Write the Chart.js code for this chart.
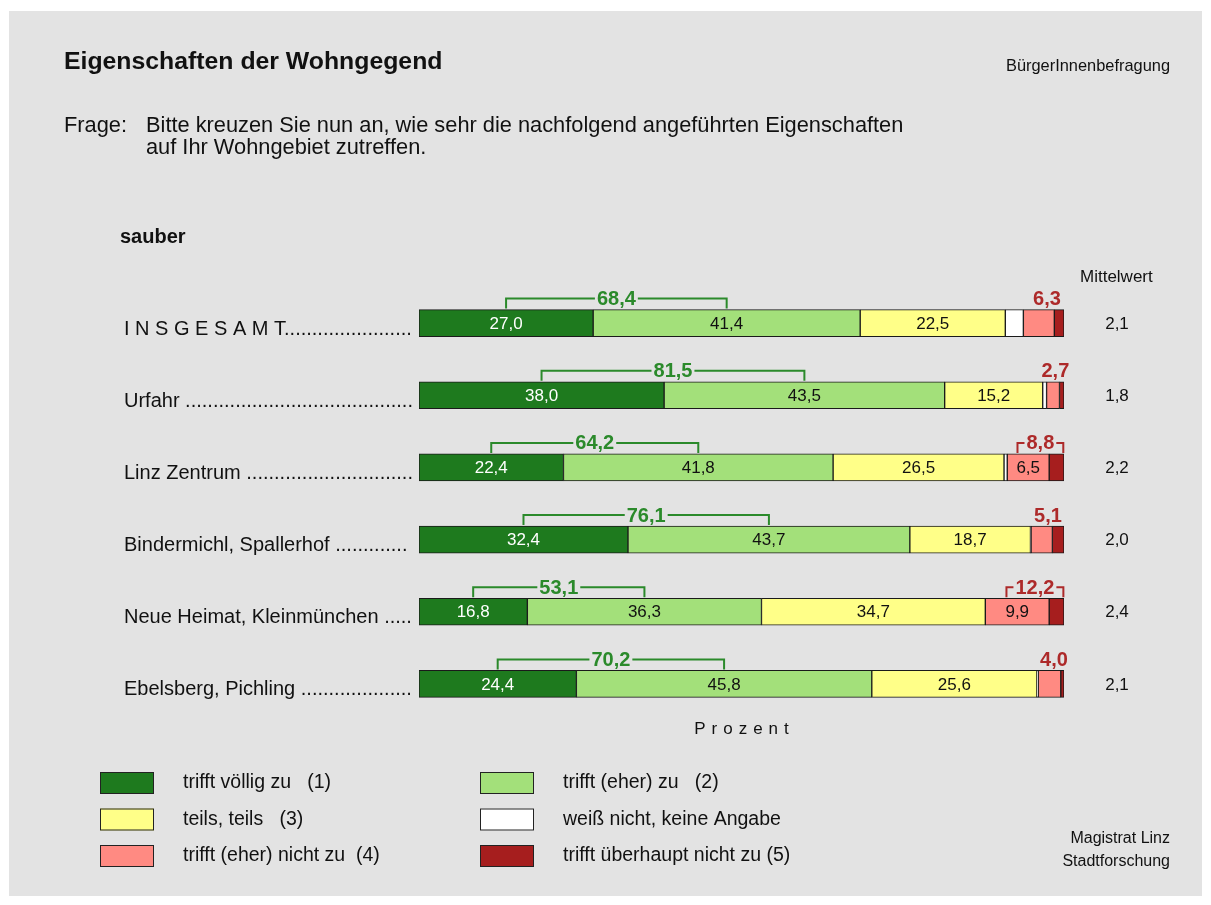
<!DOCTYPE html>
<html>
<head>
<meta charset="utf-8">
<script src="https://cdn.jsdelivr.net/npm/chart.js@4/dist/chart.umd.min.js"></script>
<style>
  body { margin: 0; background: #fff; }
  #panel { position: absolute; left: 9px; top: 11px; width: 1193px; height: 885px; background: #e3e3e3; }
  #wrap { position: absolute; left: 0; top: 0; width: 1211px; height: 905px; }
</style>
</head>
<body>
<div id="panel"></div>
<div id="wrap"><canvas id="chart" width="1211" height="905"></canvas></div>
<script>
var categories = ['I N S G E S A M T', 'Urfahr', 'Linz Zentrum', 'Bindermichl, Spallerhof', 'Neue Heimat, Kleinmünchen', 'Ebelsberg, Pichling'];
var seriesNames = ['trifft völlig zu   (1)', 'trifft (eher) zu   (2)', 'teils, teils   (3)', 'weiß nicht, keine Angabe', 'trifft (eher) nicht zu  (4)', 'trifft überhaupt nicht zu (5)'];
var voellig = [27.0, 38.0, 22.4, 32.4, 16.8, 24.4];
var eher = [41.4, 43.5, 41.8, 43.7, 36.3, 45.8];
var teils = [22.5, 15.2, 26.5, 18.7, 34.7, 25.6];
var weissNicht = [2.8, 0.6, 0.5, 0.1, 0.0, 0.2];
var eherNicht = [4.8, 2.0, 6.5, 3.3, 9.9, 3.5];
var garNicht = [1.5, 0.7, 2.3, 1.8, 2.3, 0.5];
var zustimmung = [68.4, 81.5, 64.2, 76.1, 53.1, 70.2];
var ablehnung = [6.3, 2.7, 8.8, 5.1, 12.2, 4.0];
var mittelwert = [2.1, 1.8, 2.2, 2.0, 2.4, 2.1];

var colors = ['#1e7a1e', '#a3e07a', '#ffff88', '#ffffff', '#ff8a82', '#a61e1e'];
var FONT = '"Liberation Sans", Arial, sans-serif';
var GREEN = '#2b8a2b';
var RED = '#ad2a2a';

function fmt(v) { return v.toFixed(1).replace('.', ','); }

function bracket(ctx, x1, x2, cx, ytop, ybot, text, color, showArms) {
  ctx.font = 'bold 20px ' + FONT;
  var tw = ctx.measureText(text).width;
  ctx.fillStyle = color;
  ctx.textAlign = 'center';
  ctx.textBaseline = 'middle';
  ctx.fillText(text, cx, ytop + 1);
  if (!showArms) return;
  ctx.strokeStyle = color;
  ctx.lineWidth = 2;
  ctx.beginPath();
  ctx.moveTo(x1, ybot);
  ctx.lineTo(x1, ytop);
  ctx.lineTo(cx - tw / 2 - 2, ytop);
  ctx.moveTo(cx + tw / 2 + 2, ytop);
  ctx.lineTo(x2, ytop);
  ctx.lineTo(x2, ybot);
  ctx.stroke();
}

var overlay = {
  id: 'overlay',
  afterDatasetsDraw: function (chart) {
    var ctx = chart.ctx;
    ctx.save();
    var metas = [];
    for (var d = 0; d < 6; d++) metas.push(chart.getDatasetMeta(d));
    categories.forEach(function (cat, i) {
      var bar0 = metas[0].data[i];
      var cy = bar0.y;
      var top = cy - bar0.height / 2;
      // values inside bars
      var series = [voellig, eher, teils, weissNicht, eherNicht, garNicht];
      ctx.font = '17px ' + FONT;
      ctx.textAlign = 'center';
      ctx.textBaseline = 'middle';
      series.forEach(function (arr, d) {
        if (arr[i] < 5) return;
        var el = metas[d].data[i];
        ctx.fillStyle = d === 0 ? '#ffffff' : '#111111';
        ctx.fillText(fmt(arr[i]), (el.x + el.base) / 2, cy + 1);
      });
      // green bracket
      var m1 = (metas[0].data[i].x + metas[0].data[i].base) / 2;
      var m2 = (metas[1].data[i].x + metas[1].data[i].base) / 2;
      bracket(ctx, m1, m2, (m1 + m2) / 2, top - 11, top - 1, fmt(zustimmung[i]), GREEN, true);
      // red bracket
      var m4 = (metas[4].data[i].x + metas[4].data[i].base) / 2;
      var m5 = (metas[5].data[i].x + metas[5].data[i].base) / 2;
      var rc = (m4 + m5) / 2 - 2;
      ctx.font = 'bold 20px ' + FONT;
      var hw = ctx.measureText(fmt(ablehnung[i])).width / 2 + 9;
      bracket(ctx, rc - hw, rc + hw, rc, top - 11, top - 1, fmt(ablehnung[i]), RED, eherNicht[i] >= 5);
      // category label with dots
      ctx.font = '20px ' + FONT;
      ctx.fillStyle = '#111111';
      ctx.textAlign = 'left';
      var lbl = cat + (i === 0 ? '' : ' ');
      while (ctx.measureText(lbl + '.').width <= 413 - 124) lbl += '.';
      ctx.fillText(lbl, 124, cy + 6);
      // mean
      ctx.font = '17px ' + FONT;
      ctx.textAlign = 'center';
      ctx.fillText(fmt(mittelwert[i]), 1117, cy + 1);
    });
    ctx.restore();
  },
  afterDraw: function (chart) {
    var ctx = chart.ctx;
    ctx.save();
    ctx.fillStyle = '#111111';
    ctx.textBaseline = 'middle';
    ctx.textAlign = 'left';
    ctx.font = 'bold 24.8px ' + FONT;
    ctx.fillText('Eigenschaften der Wohngegend', 64, 62);
    ctx.font = '21.8px ' + FONT;
    ctx.fillText('Frage:', 64, 126);
    ctx.fillText('Bitte kreuzen Sie nun an, wie sehr die nachfolgend angeführten Eigenschaften', 146, 126);
    ctx.fillText('auf Ihr Wohngebiet zutreffen.', 146, 148);
    ctx.font = 'bold 20px ' + FONT;
    ctx.fillText('sauber', 120, 237);
    ctx.font = '17px ' + FONT;
    ctx.fillText('Mittelwert', 1080, 277);
    ctx.textAlign = 'right';
    ctx.font = '16.4px ' + FONT;
    ctx.fillText('BürgerInnenbefragung', 1170, 66);
    ctx.font = '16px ' + FONT;
    ctx.fillText('Magistrat Linz', 1170, 839);
    ctx.fillText('Stadtforschung', 1170, 862);
    ctx.font = '17px ' + FONT;
    ctx.textAlign = 'center';
    ctx.letterSpacing = '6px';
    var xs = chart.scales.x;
    ctx.fillText('Prozent', (xs.left + xs.right) / 2 + 3, 729);
    ctx.letterSpacing = '0px';
    // legend in two columns
    var order = [0, 2, 4, 1, 3, 5];
    ctx.font = '19.5px ' + FONT;
    ctx.textAlign = 'left';
    order.forEach(function (d, k) {
      var col = Math.floor(k / 3), row = k % 3;
      var bx = col === 0 ? 100 : 480;
      var by = 772 + row * 36.5;
      ctx.fillStyle = colors[d];
      ctx.fillRect(bx, by, 54, 22);
      ctx.strokeStyle = '#222222';
      ctx.lineWidth = 1;
      ctx.strokeRect(bx + 0.5, by + 0.5, 53, 21);
      ctx.fillStyle = '#111111';
      ctx.fillText(seriesNames[d], bx + 83, by + 11);
    });
    ctx.restore();
  }
};

var series = [voellig, eher, teils, weissNicht, eherNicht, garNicht];
new Chart(document.getElementById('chart'), {
  type: 'bar',
  data: {
    labels: categories,
    datasets: series.map(function (arr, d) {
      return {
        label: seriesNames[d],
        data: arr,
        backgroundColor: colors[d],
        borderColor: '#1a1a1a',
        borderWidth: 1,
        borderSkipped: false,
        barThickness: 27
      };
    })
  },
  options: {
    indexAxis: 'y',
    responsive: false,
    animation: false,
    layout: { padding: { left: 419, right: 147, top: 287, bottom: 185 } },
    scales: {
      x: { stacked: true, min: 0, max: 100, display: false },
      y: { stacked: true, display: false }
    },
    plugins: { legend: { display: false }, tooltip: { enabled: false } }
  },
  plugins: [overlay]
});
</script>
</body>
</html>
